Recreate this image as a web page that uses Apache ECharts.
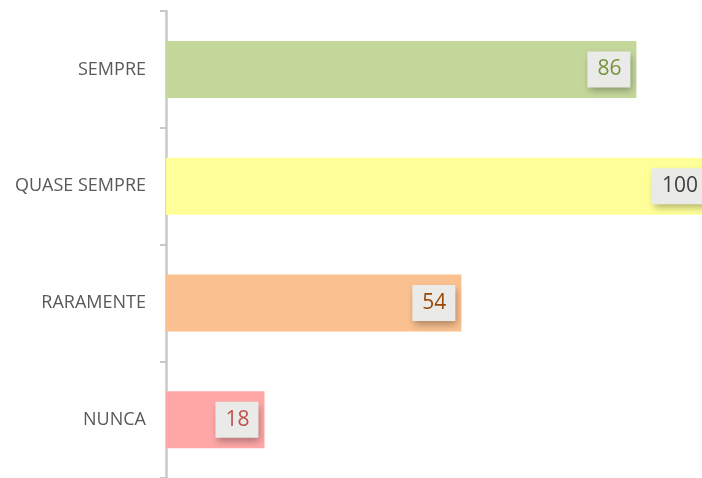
<!DOCTYPE html>
<html>
<head>
<meta charset="utf-8">
<script src="https://cdn.jsdelivr.net/npm/echarts@6/dist/echarts.min.js"></script>
<style>
  html, body { margin: 0; padding: 0; background: #fff; }
  #chart { width: 702px; height: 478px; }
</style>
</head>
<body>
<div id="chart"></div>
<script>
// respostas, de cima para baixo
var categories = ['SEMPRE', 'QUASE SEMPRE', 'RARAMENTE', 'NUNCA']
var values = [86, 100, 54, 18]
var barColors = ['#C4D79B', '#FFFF99', '#FAC090', '#FFA7A7']
var labelColors = ['#77933C', '#404040', '#984807', '#C0504D']

var myChart = echarts.init(document.getElementById('chart'))

var data = values.map(function (v, i) {
  return {
    value: v,
    itemStyle: { color: barColors[i] },
    label: { color: labelColors[i] }
  }
})

var option = {
  animation: false,
  grid: {
    left: 166,
    right: -11,
    top: 11,
    bottom: 0,
    outerBoundsMode: 'none'
  },
  xAxis: {
    type: 'value',
    min: 0,
    max: 100,
    show: false
  },
  yAxis: {
    type: 'category',
    data: categories,
    inverse: true,
    axisLine: { lineStyle: { color: '#C8C8C8', width: 2.5 } },
    axisTick: { show: true, length: 6, lineStyle: { color: '#C8C8C8', width: 2 } },
    axisLabel: {
      color: '#595959',
      fontSize: 18,
      fontFamily: 'Open Sans',
      margin: 20
    }
  },
  series: [{
    type: 'bar',
    data: data,
    barWidth: 57,
    label: {
      show: true,
      position: 'insideRight',
      distance: 6,
      fontSize: 21,
      lineHeight: 22,
      fontFamily: 'Open Sans',
      backgroundColor: '#EAEBE8',
      padding: [7, 9, 7, 10],
      shadowColor: 'rgba(0,0,0,0.3)',
      shadowBlur: 7,
      shadowOffsetX: 2,
      shadowOffsetY: 4
    }
  }]
}
myChart.setOption(option)
</script>
</body>
</html>
